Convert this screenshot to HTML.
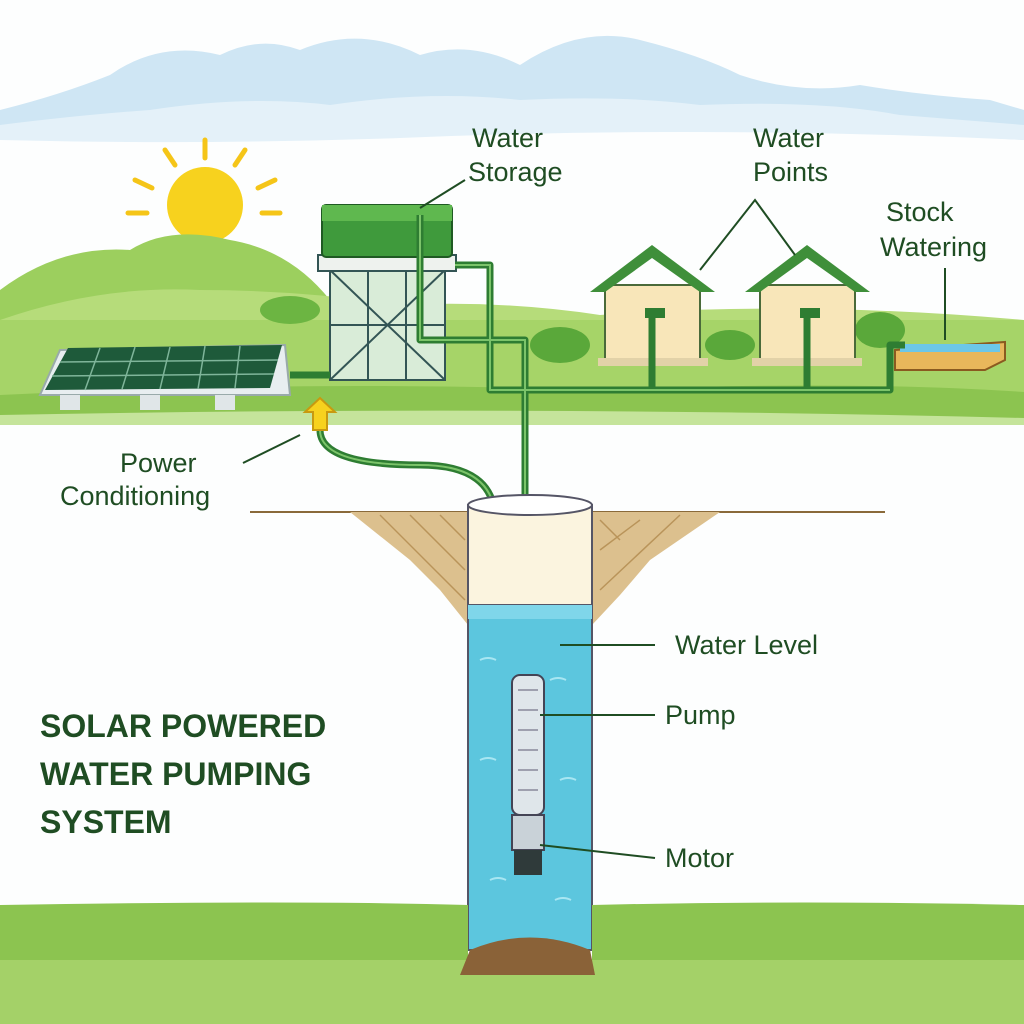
<!DOCTYPE html>
<html><head><meta charset="utf-8"><style>
html,body{margin:0;padding:0;background:#fff}
svg{display:block}
text{font-family:"Liberation Sans",sans-serif;fill:#1f4d23}
</style></head><body>
<svg width="1024" height="1024" viewBox="0 0 1024 1024" xmlns="http://www.w3.org/2000/svg">
<rect width="1024" height="1024" fill="#fdfefe"/>
<!-- sky mountains -->
<path d="M0,140 L0,110 Q60,95 110,75 Q160,40 220,55 Q260,35 300,50 Q360,25 420,55 Q470,40 520,65 Q580,25 640,40 Q700,55 740,75 Q800,95 860,85 Q920,95 990,100 L1024,110 L1024,140 Q700,120 400,135 Q200,140 0,140 Z" fill="#cfe6f4"/>
<path d="M0,140 L0,125 Q80,115 150,110 Q250,95 330,105 Q430,90 520,100 Q620,95 700,105 Q820,100 900,115 L1024,125 L1024,140 Q700,125 400,138 Q200,145 0,140 Z" fill="#e4f1f9"/>
<!-- sun -->
<circle cx="205" cy="205" r="38" fill="#f7d21e"/>
<g stroke="#f5c518" stroke-width="5" stroke-linecap="round">
<line x1="205" y1="140" x2="205" y2="158"/><line x1="165" y1="150" x2="175" y2="165"/><line x1="245" y1="150" x2="235" y2="165"/>
<line x1="135" y1="180" x2="152" y2="188"/><line x1="275" y1="180" x2="258" y2="188"/><line x1="128" y1="213" x2="147" y2="213"/><line x1="262" y1="213" x2="280" y2="213"/>
</g>
<!-- hills -->
<path d="M0,290 Q60,245 130,250 Q170,225 230,240 Q290,250 330,300 L330,330 L0,330 Z" fill="#9ccf5e"/>
<path d="M0,320 Q100,285 200,290 Q300,290 400,305 Q500,300 600,315 Q800,300 1024,320 L1024,330 L0,330 Z" fill="#b6dc7a"/>
<rect x="0" y="320" width="1024" height="95" fill="#a6d468"/>
<path d="M0,395 Q300,380 600,390 Q850,380 1024,392 L1024,425 L0,425 Z" fill="#8cc450"/>
<path d="M0,415 Q500,405 1024,418 L1024,425 L0,425Z" fill="#c5e49b"/>
<!-- bushes -->
<ellipse cx="560" cy="345" rx="30" ry="18" fill="#5aa83a"/><ellipse cx="730" cy="345" rx="25" ry="15" fill="#5aa83a"/><ellipse cx="880" cy="330" rx="25" ry="18" fill="#5aa83a"/><ellipse cx="290" cy="310" rx="30" ry="14" fill="#6cb542"/>
<!-- solar panel -->
<polygon points="60,350 285,345 290,395 40,395" fill="#e8eef0" stroke="#9aa" stroke-width="2"/>
<polygon points="68,348 282,345 270,388 45,390" fill="#1e5a3a"/>
<g stroke="#7fb59a" stroke-width="1.5">
<line x1="100" y1="348" x2="85" y2="390"/><line x1="135" y1="347" x2="122" y2="389"/><line x1="170" y1="347" x2="160" y2="389"/><line x1="205" y1="346" x2="198" y2="389"/><line x1="240" y1="346" x2="235" y2="388"/>
<line x1="60" y1="362" x2="278" y2="360"/><line x1="52" y1="376" x2="274" y2="374"/></g>
<rect x="60" y="395" width="20" height="15" fill="#e0e6e8"/><rect x="140" y="395" width="20" height="15" fill="#e0e6e8"/><rect x="215" y="395" width="20" height="15" fill="#e0e6e8"/>
<!-- tower -->
<rect x="330" y="270" width="115" height="110" fill="#d9ecd8" stroke="#355" stroke-width="2"/>
<g stroke="#355" stroke-width="2"><line x1="330" y1="270" x2="445" y2="380"/><line x1="445" y1="270" x2="330" y2="380"/><line x1="330" y1="325" x2="445" y2="325"/><line x1="368" y1="270" x2="368" y2="380"/><line x1="406" y1="270" x2="406" y2="380"/></g>
<rect x="318" y="255" width="138" height="16" fill="#eef2ee" stroke="#355" stroke-width="2"/>
<rect x="322" y="205" width="130" height="52" rx="4" fill="#3f9a3c" stroke="#1f5a23" stroke-width="2"/>
<rect x="322" y="205" width="130" height="16" fill="#5fb84f"/>
<!-- houses -->
<g>
<rect x="605" y="285" width="95" height="75" fill="#f8e6b9" stroke="#4a6a3a" stroke-width="2"/>
<polygon points="590,292 652,245 715,292 700,292 652,258 605,292" fill="#3f8f3a"/>
<rect x="598" y="358" width="110" height="8" fill="#e2d2a8"/>
<rect x="760" y="285" width="95" height="75" fill="#f8e6b9" stroke="#4a6a3a" stroke-width="2"/>
<polygon points="745,292 807,245 870,292 855,292 807,258 760,292" fill="#3f8f3a"/>
<rect x="752" y="358" width="110" height="8" fill="#e2d2a8"/>
</g>
<!-- trough -->
<polygon points="895,350 1005,342 1005,360 985,370 895,370" fill="#e8b75b" stroke="#8a5a20" stroke-width="2"/>
<rect x="900" y="344" width="100" height="8" fill="#6cc7e8"/>
<!-- pipes -->
<g fill="none" stroke="#2e7d32" stroke-width="7" stroke-linejoin="round">
<path d="M420,215 L420,340 L525,340 L525,820"/>
<path d="M455,265 L490,265 L490,390 L890,390 L890,345 L905,345"/>
<path d="M652,315 L652,390 M807,315 L807,390"/>
<path d="M320,430 Q320,465 420,465 Q495,465 495,520 L495,820 L515,820"/>
<path d="M290,375 L330,375"/>
</g>
<g fill="none" stroke="#7cc46a" stroke-width="2">
<path d="M420,215 L420,340 L525,340 L525,820"/><path d="M455,265 L490,265 L490,390 L890,390"/><path d="M320,430 Q320,465 420,465 Q495,465 495,520 L495,820"/>
</g>
<rect x="645" y="308" width="20" height="10" fill="#2e7d32"/><rect x="800" y="308" width="20" height="10" fill="#2e7d32"/>
<!-- power conditioning arrow -->
<polygon points="320,398 335,412 327,412 327,430 313,430 313,412 305,412" fill="#f7d21e" stroke="#c89a10" stroke-width="2"/>
<!-- ground line and soil -->
<line x1="250" y1="512" x2="885" y2="512" stroke="#8a6a3a" stroke-width="2"/>
<polygon points="350,512 468,512 468,625 440,590 410,560" fill="#dcc08e"/>
<polygon points="592,512 720,512 650,560 620,595 592,625" fill="#dcc08e"/>
<g stroke="#b9945a" stroke-width="1.5"><line x1="380" y1="515" x2="465" y2="600"/><line x1="410" y1="515" x2="465" y2="570"/><line x1="440" y1="515" x2="465" y2="540"/><line x1="600" y1="520" x2="620" y2="540"/><line x1="600" y1="550" x2="640" y2="520"/><line x1="600" y1="590" x2="680" y2="515"/></g>
<!-- well -->
<rect x="468" y="505" width="124" height="100" fill="#fbf4df" stroke="#556" stroke-width="2"/>
<ellipse cx="530" cy="505" rx="62" ry="10" fill="#fff" stroke="#556" stroke-width="2"/>
<rect x="468" y="605" width="124" height="345" fill="#5cc6de" stroke="#556" stroke-width="2"/>
<rect x="468" y="605" width="124" height="14" fill="#7fd6ea"/>
<g stroke="#a8e6f2" stroke-width="2" fill="none"><path d="M480,660 q8,-4 16,0 M550,680 q8,-4 16,0 M480,760 q8,-4 16,0 M560,780 q8,-4 16,0 M490,880 q8,-4 16,0 M555,900 q8,-4 16,0"/></g>
<!-- pump -->
<rect x="512" y="675" width="32" height="140" rx="8" fill="#dfe6ea" stroke="#445" stroke-width="2"/>
<g stroke="#889" stroke-width="1.5"><line x1="518" y1="690" x2="538" y2="690"/><line x1="518" y1="710" x2="538" y2="710"/><line x1="518" y1="730" x2="538" y2="730"/><line x1="518" y1="750" x2="538" y2="750"/><line x1="518" y1="770" x2="538" y2="770"/><line x1="518" y1="790" x2="538" y2="790"/></g>
<rect x="512" y="815" width="32" height="35" fill="#c9d2d8" stroke="#445" stroke-width="2"/>
<rect x="514" y="850" width="28" height="25" fill="#2f3a3a"/>
<!-- bottom grass -->
<path d="M0,905 Q300,900 468,905 L468,1024 L0,1024Z" fill="#8cc450"/>
<path d="M592,905 Q800,900 1024,905 L1024,1024 L592,1024Z" fill="#8cc450"/>
<rect x="0" y="960" width="1024" height="64" fill="#a4d168"/>
<path d="M470,950 Q530,925 590,950 L595,975 L460,975Z" fill="#8a6238"/>
<!-- leader lines -->
<g stroke="#1f4d23" stroke-width="2" fill="none">
<line x1="465" y1="180" x2="420" y2="208"/>
<polyline points="700,270 755,200 795,255"/>
<line x1="945" y1="268" x2="945" y2="340"/>
<line x1="243" y1="463" x2="300" y2="435"/>
<line x1="560" y1="645" x2="655" y2="645"/>
<line x1="540" y1="715" x2="655" y2="715"/>
<line x1="540" y1="845" x2="655" y2="858"/>
</g>
<!-- labels -->
<g font-size="27">
<text x="472" y="147">Water</text><text x="468" y="181">Storage</text>
<text x="753" y="147">Water</text><text x="753" y="181">Points</text>
<text x="886" y="221">Stock</text><text x="880" y="256">Watering</text>
<text x="120" y="472">Power</text><text x="60" y="505">Conditioning</text>
<text x="675" y="654">Water Level</text>
<text x="665" y="724">Pump</text>
<text x="665" y="867">Motor</text>
</g>
<g font-size="32" font-weight="bold">
<text x="40" y="737">SOLAR POWERED</text>
<text x="40" y="785">WATER PUMPING</text>
<text x="40" y="833">SYSTEM</text>
</g>
</svg>
</body></html>
